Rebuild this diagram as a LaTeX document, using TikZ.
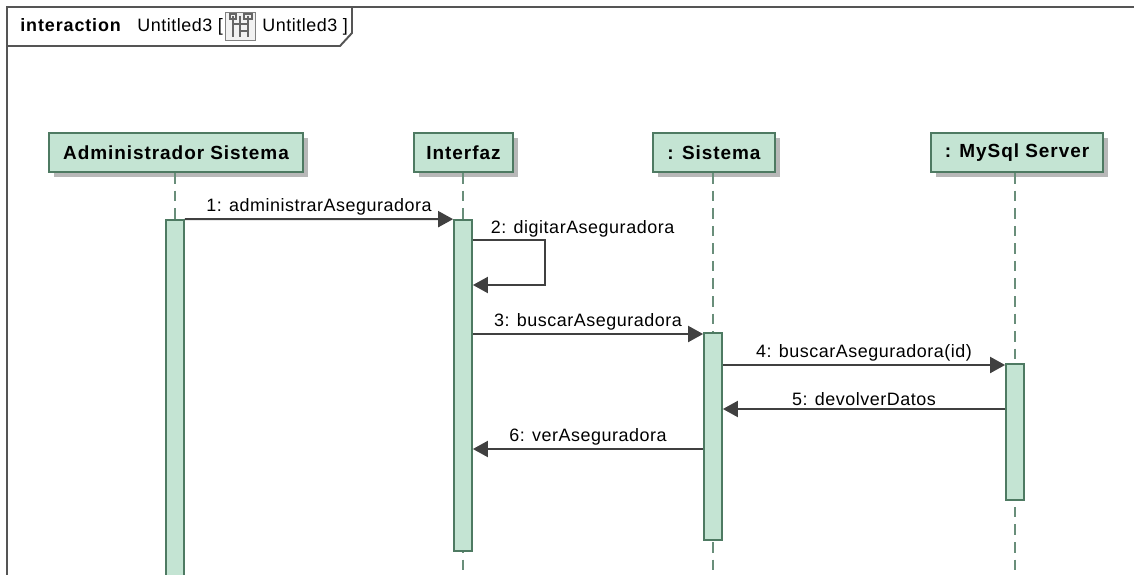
\documentclass[tikz,border=0pt]{standalone}
\usepackage{fontspec}
\setmainfont{Liberation Sans}
\usetikzlibrary{shadows,arrows.meta}
\definecolor{headfill}{RGB}{196,228,211}
\definecolor{headline}{RGB}{78,122,98}
\definecolor{msgline}{RGB}{64,64,64}
\definecolor{frameline}{RGB}{85,85,85}
\newcommand\lblfont{\fontsize{10.2}{12}\selectfont\addfontfeature{LetterSpace=3}}
\newcommand\headfont{\fontsize{10.8}{13}\selectfont\bfseries\addfontfeature{LetterSpace=5}}
\tikzset{
    head/.style={draw=headline, fill=headfill, line width=1.2pt, minimum height=0.78cm,
        inner sep=0pt, font=\headfont,
        drop shadow={shadow xshift=0.1cm, shadow yshift=-0.1cm, fill=black!28, opacity=1}},
    bar/.style={draw=headline, fill=headfill, line width=1pt, minimum width=0.36cm, inner sep=0pt},
    life/.style={draw=headline!85, line width=0.9pt, dash pattern=on 6pt off 4pt},
    msg/.style={draw=msgline, line width=1.1pt, -{Triangle[length=0.3cm,width=0.32cm]}},
    lbl/.style={font=\lblfont, inner sep=1.5pt},
    frame/.style={draw=frameline, line width=1.1pt}
}
\begin{document}
\begin{tikzpicture}[x=0.02cm, y=-0.02cm]
    \useasboundingbox (0,0) rectangle (1134,575);
    \clip (0,0) rectangle (1134,575);
    % frame and its header
    \draw[frame] (7,600) -- (7,7) -- (1140,7);
    \draw[frame] (7,46) -- (340,46) -- (352,33) -- (352,7);
    \node[anchor=base west, inner sep=0pt, font=\lblfont\bfseries\addfontfeature{LetterSpace=5}] (kind) at (20,31) {interaction};
    \node[anchor=base west, inner sep=0pt, font=\lblfont] (name) at (137,31) {Untitled3 [};
    \node[anchor=base west, inner sep=0pt, font=\lblfont] (ref) at (262,31) {Untitled3 ]};
    % small diagram icon
    \draw[gray, fill=gray!10, line width=0.5pt] (225,12) rectangle (255,40);
    \draw[gray!80!black, line width=0.8pt] (233,16) -- (233,37) (240,16) -- (240,37) (248,16) -- (248,37);
    \draw[gray!80!black, line width=0.6pt] (230,14) rectangle (236,19) (244,14) rectangle (252,19);
    \draw[gray!80!black, line width=0.6pt] (233,24) -- (248,24) (248,31) -- (240,31);

    % lifeline heads
    \node[head, minimum width=5.08cm] (admin) at (176,152.5) {Administrador Sistema};
    \node[head, minimum width=1.98cm] (gui) at (463.5,152.5) {Interfaz};
    \node[head, minimum width=2.44cm] (sys) at (714,152.5) {: Sistema};
    \node[head, minimum width=3.44cm] (db) at (1017,152.5) {: MySql Server};

    % lifelines
    \coordinate (bottom) at (0,600);
    \draw[life] (admin.south -| 175,0) -- (bottom -| 175,0);
    \draw[life] (gui.south -| 463,0) -- (bottom -| 463,0);
    \draw[life] (sys.south -| 713,0) -- (bottom -| 713,0);
    \draw[life] (db.south -| 1015,0) -- (bottom -| 1015,0);

    % activations
    \node[bar, minimum height=7.6cm] (actA) at (175,410) {};
    \node[bar, minimum height=6.62cm] (actI) at (463,385.5) {};
    \node[bar, minimum height=4.14cm] (actS) at (713,436.5) {};
    \node[bar, minimum height=2.72cm] (actD) at (1015,432) {};

    % messages
    \coordinate (y2a) at (0,240);
    \coordinate (y2b) at (0,285);
    \coordinate (y3) at (0,334);
    \coordinate (y4) at (0,365);
    \coordinate (y5) at (0,409);
    \coordinate (y6) at (0,449);
    \draw[msg] (actA.north east) -- node[lbl, above] (m1) {1: administrarAseguradora} (actI.north west);
    \draw[msg] (actI.east |- y2a) -- ++(72,0) |- (actI.east |- y2b);
    \node[lbl, anchor=south west, xshift=0.3cm] (m2) at (actI.east |- y2a) {2: digitarAseguradora};
    \draw[msg] (actI.east |- y3) -- node[lbl, above] (m3) {3: buscarAseguradora} (actS.west |- y3);
    \draw[msg] (actS.east |- y4) -- node[lbl, above] (m4) {4: buscarAseguradora(id)} (actD.west |- y4);
    \draw[msg] (actD.west |- y5) -- node[lbl, above] (m5) {5: devolverDatos} (actS.east |- y5);
    \draw[msg] (actS.west |- y6) -- node[lbl, above] (m6) {6: verAseguradora} (actI.east |- y6);
\end{tikzpicture}
\end{document}
